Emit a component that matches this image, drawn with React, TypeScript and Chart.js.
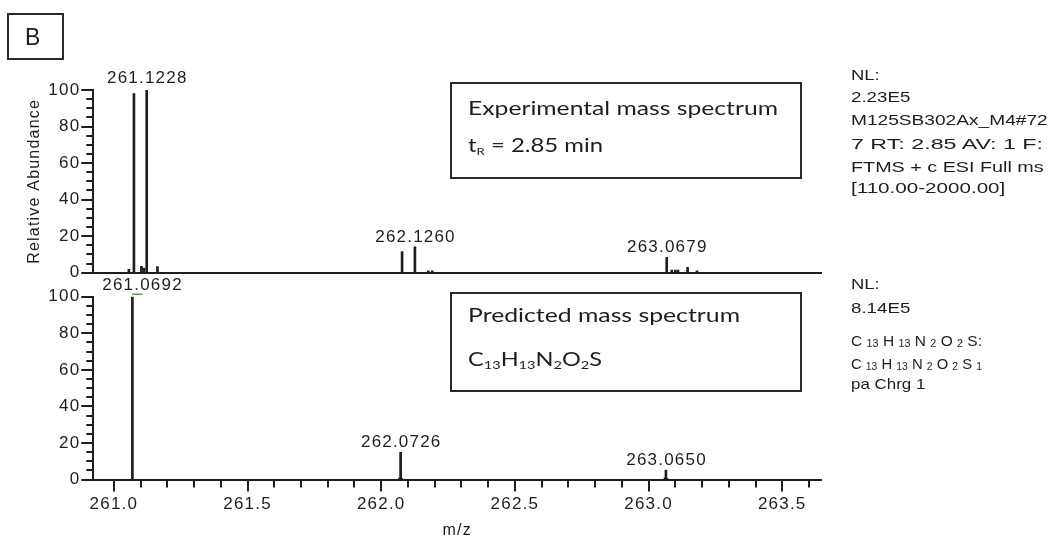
import React, { useEffect, useLayoutEffect, useRef } from "react";
import { Chart, registerables } from "chart.js";

Chart.register(...registerables);

const INK = "#1e1e1e";
const SANS = "'Liberation Sans', Arial, sans-serif";
const BOX_FONT = "Lato, 'Open Sans', sans-serif";

// m/z window shared by both panels
const MZ_MIN = 260.923;
const MZ_MAX = 263.645;
const mzTickStep = 0.1;
const mzTickLabels = ["261.0", "261.5", "262.0", "262.5", "263.0", "263.5"];
const abundanceTickStep = 5;
const abundanceTickLabels = ["0", "20", "40", "60", "80", "100"];

// Experimental spectrum (tR = 2.85 min)
const expMz = [
  261.056, 261.075, 261.103, 261.112, 261.1228, 261.163,
  262.078, 262.126, 262.176, 262.191,
  263.0679, 263.087, 263.1, 263.11, 263.146, 263.181,
];
const expAbundance = [
  1.8, 98, 3.5, 2.5, 100, 3.3,
  11.5, 14.2, 1.0, 1.0,
  8.4, 1.5, 1.5, 1.5, 3.0, 1.0,
];
const expLabelled = [261.1228, 262.126, 263.0679];

// Predicted isotope pattern for C13H13N2O2S
const predMz = [261.0692, 262.0686, 262.0726, 262.076, 263.0616, 263.065, 263.069];
const predAbundance = [100, 0.8, 14.9, 0.6, 0.9, 5.1, 0.7];
const predLabelled = [261.0692, 262.0726, 263.065];

const TOP_H = 290;
const BOT_TOP = 276;
const BOT_H = 270;

const spacingPlugin = {
  id: "spacing",
  beforeLayout(chart: any) {
    chart.ctx.letterSpacing = "1.2px";
  },
  beforeDraw(chart: any) {
    chart.ctx.letterSpacing = "1.2px";
  },
};

// major/minor tick marks on the axes
const tickMarksPlugin = {
  id: "tickMarks",
  afterDraw(chart: any, _args: any, opts: any) {
    const { ctx } = chart;
    ctx.save();
    ctx.strokeStyle = INK;
    ctx.lineWidth = 2;
    ctx.beginPath();
    const y = chart.scales.y;
    for (const t of y.ticks) {
      const py = Math.round(y.getPixelForValue(t.value));
      const major = abundanceTickLabels.includes(String(t.value));
      const len = major ? 12 : 7;
      ctx.moveTo(y.right - len, py);
      ctx.lineTo(y.right, py);
    }
    if (opts.xTicks) {
      const x = chart.scales.x;
      for (const t of x.ticks) {
        const px = Math.round(x.getPixelForValue(t.value));
        const major = mzTickLabels.includes(Number(t.value).toFixed(1));
        const len = major ? 12 : 8;
        ctx.moveTo(px, x.top);
        ctx.lineTo(px, x.top + len);
      }
    }
    ctx.stroke();
    ctx.restore();
  },
};

// m/z labels above the annotated peaks (kept clear of the y axis)
const peakLabelsPlugin = {
  id: "peakLabels",
  afterDatasetsDraw(chart: any, _args: any, opts: any) {
    const { ctx, chartArea } = chart;
    const meta = chart.getDatasetMeta(0);
    const pts = chart.data.datasets[0].data;
    ctx.save();
    ctx.font = `17px ${SANS}`;
    ctx.letterSpacing = "1.2px";
    ctx.fillStyle = INK;
    ctx.textAlign = "center";
    ctx.textBaseline = "alphabetic";
    for (const mz of opts.labelled) {
      const i = pts.findIndex((p: any) => p.x === mz);
      if (i < 0) continue;
      const el = meta.data[i];
      const text = mz.toFixed(4);
      const half = ctx.measureText(text).width / 2;
      const cx = Math.max(el.x + 0.6, chartArea.left + 9 + half);
      const gap = pts[i].y >= 100 ? 7 : 5;
      ctx.fillText(text, cx, el.y - gap);
    }
    if (opts.marker != null) {
      const i = pts.findIndex((p: any) => p.x === opts.marker);
      if (i >= 0) {
        const el = meta.data[i];
        ctx.strokeStyle = "#3fae49";
        ctx.lineWidth = 1.5;
        ctx.beginPath();
        ctx.moveTo(el.x, el.y - 2.5);
        ctx.lineTo(el.x + 10, el.y - 2.5);
        ctx.stroke();
      }
    }
    ctx.restore();
  },
};

function makeConfig(mz: number[], ab: number[], labelled: number[], isTop: boolean) {
  const tickFont = { size: 17, family: SANS };
  return {
    type: "bar",
    data: {
      datasets: [
        {
          data: mz.map((m, i) => ({ x: m, y: ab[i] })),
          backgroundColor: INK,
          borderWidth: 0,
          barThickness: 2,
        },
      ],
    },
    options: {
      responsive: false,
      animation: false,
      devicePixelRatio: 1,
      layout: {
        padding: isTop
          ? { left: 0, right: 229, top: 90, bottom: TOP_H - 272.7 }
          : { left: 0, right: 229, top: 296.7 - BOT_TOP, bottom: 0 },
      },
      plugins: {
        legend: { display: false },
        tooltip: { enabled: false },
        tickMarks: { xTicks: !isTop },
        peakLabels: { labelled, marker: isTop ? null : 261.0692 },
      },
      scales: {
        x: {
          type: "linear",
          min: MZ_MIN,
          max: MZ_MAX,
          offset: false,
          grid: { display: false, drawTicks: !isTop, tickLength: 12, offset: false },
          border: { display: true, color: INK, width: 2 },
          ticks: {
            display: !isTop,
            stepSize: mzTickStep,
            includeBounds: false,
            autoSkip: false,
            maxRotation: 0,
            padding: 3,
            color: INK,
            font: tickFont,
            callback: (v: number) => {
              const s = Number(v).toFixed(1);
              return mzTickLabels.includes(s) ? s : "";
            },
          },
          title: isTop
            ? { display: false }
            : {
                display: true,
                text: "m/z",
                color: INK,
                font: { size: 16, family: SANS },
                padding: { top: 0, bottom: 6 },
              },
          afterFit: (s: any) => {
            s.height = isTop ? 0 : BOT_H - (479.5 - BOT_TOP);
          },
        },
        y: {
          min: 0,
          max: 100,
          grid: { display: false, drawTicks: true, tickLength: 12 },
          border: { display: true, color: INK, width: 2 },
          ticks: {
            stepSize: abundanceTickStep,
            autoSkip: false,
            padding: 1,
            color: INK,
            font: tickFont,
            callback: (v: number) => (abundanceTickLabels.includes(String(v)) ? String(v) : ""),
          },
          title: isTop
            ? {
                display: true,
                text: "Relative Abundance",
                color: INK,
                font: { size: 16, family: SANS },
                padding: { top: 25, bottom: 0 },
              }
            : { display: false },
          afterFit: (s: any) => {
            s.width = 93.3;
          },
        },
      },
    },
    plugins: [spacingPlugin, tickMarksPlugin, peakLabelsPlugin],
  };
}

function Panel({ top, height, mz, ab, labelled, isTop }: any) {
  const ref = useRef<HTMLCanvasElement>(null);
  useEffect(() => {
    if (!ref.current) return;
    const chart = new Chart(ref.current, makeConfig(mz, ab, labelled, isTop) as any);
    return () => chart.destroy();
  }, []);
  return (
    <canvas
      ref={ref}
      width={1050}
      height={height}
      style={{ position: "absolute", left: 0, top, width: 1050, height }}
    />
  );
}

// single line of text positioned by its baseline, stretched to a given width
function Txt({ x, base, size, width, font = SANS, asc = 0.8465, children }: any) {
  const ref = useRef<HTMLDivElement>(null);
  useLayoutEffect(() => {
    const el = ref.current;
    if (!el || !width) return;
    el.style.transform = "none";
    const natural = el.getBoundingClientRect().width;
    if (natural > 0) el.style.transform = `scaleX(${width / natural})`;
  }, [width]);
  return (
    <div
      ref={ref}
      style={{
        position: "absolute",
        left: x,
        top: base - asc * size,
        fontFamily: font,
        fontSize: size,
        lineHeight: `${size}px`,
        whiteSpace: "nowrap",
        color: INK,
        transformOrigin: "0 0",
      }}
    >
      {children}
    </div>
  );
}

const Sub = ({ children, size = "0.62em", drop = "-0.28em" }: any) => (
  <span style={{ fontSize: size, verticalAlign: drop, lineHeight: 0 }}>{children}</span>
);

const boxStyle = (left: number, top: number, right: number, bottom: number): React.CSSProperties => ({
  position: "absolute",
  left,
  top,
  width: right - left,
  height: bottom - top,
  border: "2px solid #2a2a2a",
  boxSizing: "border-box",
});

export default function App() {
  const lato = { font: BOX_FONT, asc: 0.887 };
  return (
    <div
      style={{
        position: "fixed",
        left: 0,
        top: 0,
        width: 1050,
        height: 537,
        background: "#fff",
        overflow: "hidden",
      }}
    >
      <Panel top={0} height={TOP_H} mz={expMz} ab={expAbundance} labelled={expLabelled} isTop />
      <Panel top={BOT_TOP} height={BOT_H} mz={predMz} ab={predAbundance} labelled={predLabelled} isTop={false} />

      <div style={boxStyle(7, 13, 63.5, 60)} />
      <Txt x={25} base={45} size={23}>B</Txt>

      <div style={boxStyle(450, 82, 802, 178.5)} />
      <Txt x={468} base={115} size={18.5} width={310} {...lato}>Experimental mass spectrum</Txt>
      <Txt x={468} base={152.5} size={18.5} width={135} {...lato}>
        t<Sub size="0.55em">R</Sub> = 2.85 min
      </Txt>

      <div style={boxStyle(450, 292, 802, 392)} />
      <Txt x={468} base={322} size={18.5} width={272} {...lato}>Predicted mass spectrum</Txt>
      <Txt x={468} base={366.7} size={18.5} width={134} {...lato}>
        C<Sub>13</Sub>H<Sub>13</Sub>N<Sub>2</Sub>O<Sub>2</Sub>S
      </Txt>

      <Txt x={850.7} base={80} size={15} width={28.7}>NL:</Txt>
      <Txt x={850.7} base={101.7} size={15} width={59.3}>2.23E5</Txt>
      <Txt x={850.7} base={125} size={15} width={196.7}>M125SB302Ax_M4#72</Txt>
      <Txt x={850.7} base={149} size={15} width={192}>7  RT: 2.85  AV: 1  F:</Txt>
      <Txt x={850.7} base={171.5} size={15} width={192.7}>FTMS + c ESI Full ms</Txt>
      <Txt x={850.7} base={193} size={15} width={154.3}>[110.00-2000.00]</Txt>

      <Txt x={850.7} base={288.3} size={15} width={28.7}>NL:</Txt>
      <Txt x={850.7} base={312.5} size={15} width={59.3}>8.14E5</Txt>
      <Txt x={850.7} base={346} size={15} width={131}>
        C <Sub size="0.7em" drop="-0.1em">13</Sub> H <Sub size="0.7em" drop="-0.1em">13</Sub> N <Sub size="0.7em" drop="-0.1em">2</Sub> O <Sub size="0.7em" drop="-0.1em">2</Sub> S:
      </Txt>
      <Txt x={850.7} base={368.3} size={15} width={131}>
        C <Sub size="0.7em" drop="-0.1em">13</Sub> H <Sub size="0.7em" drop="-0.1em">13</Sub> N <Sub size="0.7em" drop="-0.1em">2</Sub> O <Sub size="0.7em" drop="-0.1em">2</Sub> S <Sub size="0.7em" drop="-0.1em">1</Sub>
      </Txt>
      <Txt x={850.7} base={389} size={15} width={74.3}>pa Chrg 1</Txt>
    </div>
  );
}
